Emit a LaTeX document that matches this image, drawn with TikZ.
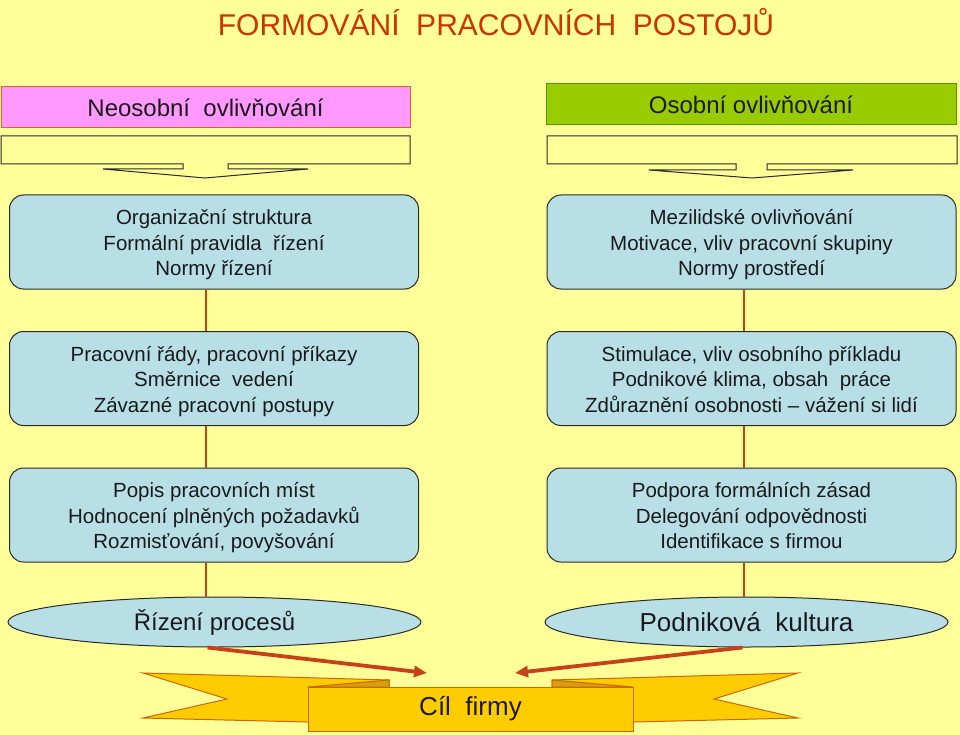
\documentclass[tikz,border=0pt]{standalone}
\usepackage{fontspec}
\setmainfont{Liberation Sans}
\usetikzlibrary{shapes.geometric,arrows.meta}
\definecolor{bgyellow}{HTML}{FFFF99}
\definecolor{titlered}{HTML}{CC3300}
\definecolor{pinkfill}{HTML}{FF99FF}
\definecolor{pinkline}{HTML}{E0602A}
\definecolor{greenfill}{HTML}{99CC00}
\definecolor{greenline}{HTML}{4A9A00}
\definecolor{boxblue}{HTML}{B9DFE6}
\definecolor{darkline}{HTML}{2A2A2A}
\definecolor{connred}{HTML}{C8401A}
\definecolor{gold}{HTML}{FFCC00}
\definecolor{goldline}{HTML}{CC6600}
\definecolor{golddark}{HTML}{D4A010}
\definecolor{txt}{HTML}{1A1A1A}
\newcommand\btext[1]{\raisebox{0pt}[\dimexpr\height+6pt\relax]{\begin{tabular}{@{}c@{}}#1\end{tabular}}}
\tikzset{
  hdr/.style={draw, line width=1pt, minimum width=409pt, minimum height=41pt, inner sep=0pt,
    font=\fontsize{24}{28}\selectfont, text=txt},
  infobox/.style={draw=darkline, line width=1pt, fill=boxblue, rounded corners=14pt,
    minimum width=409pt, minimum height=94pt, inner sep=0pt,
    font=\fontsize{20.5}{25.5}\selectfont, text=txt},
  ovalbox/.style={ellipse, draw=darkline, line width=1pt, fill=boxblue, inner sep=0pt,
    minimum height=50pt, text=txt},
  callout/.style={draw=darkline, line width=1pt},
  conn/.style={draw=connred, line width=2.5pt},
  bigarrow/.style={draw=connred, line width=3.8pt, -{Triangle[length=13pt,width=11pt]}},
  tail/.style={draw=goldline, line width=1pt, fill=gold, line join=miter},
  fold/.style={draw=goldline, line width=1pt, fill=golddark},
}
\begin{document}
\begin{tikzpicture}[x=1pt,y=-1pt]
\fill[bgyellow] (0,0) rectangle (960,735);
\useasboundingbox (0,0) rectangle (960,735);

% title
\node[text=titlered, font=\fontsize{30}{34}\selectfont, inner sep=0pt] (title) at (496,22) {FORMOVÁNÍ\ \ PRACOVNÍCH\ \ POSTOJŮ};

% headers
\node[hdr, fill=pinkfill, draw=pinkline] (hL) at (205.5,107.5) {Neosobní\ \ ovlivňování};
\node[hdr, fill=greenfill, draw=greenline, minimum width=410pt] (hR) at (751,104.5) {Osobní ovlivňování};

% callout shapes
\draw[callout] (1,136) -- (410,136) -- (410,164) -- (228,164) -- (228,169) -- (308,169)
  -- (205,178) -- (103,169) -- (183,169) -- (183,164) -- (1,164) -- cycle;
\draw[callout] (547,136) -- (957,136) -- (957,164) -- (767,164) -- (767,170) -- (853,170)
  -- (752,178) -- (649,170) -- (736,170) -- (736,164) -- (547,164) -- cycle;

% boxes
\node[infobox] (L1) at (214,242) {\btext{Organizační struktura\\Formální pravidla\ \ řízení\\Normy řízení}};
\node[infobox] (L2) at (214,378.5) {\btext{Pracovní řády, pracovní příkazy\\Směrnice\ \ vedení\\Závazné pracovní postupy}};
\node[infobox] (L3) at (214,515) {\btext{Popis pracovních míst\\Hodnocení plněných požadavků\\Rozmisťování, povyšování}};

\node[infobox] (R1) at (751.5,242) {\btext{Mezilidské ovlivňování\\Motivace, vliv pracovní skupiny\\Normy prostředí}};
\node[infobox] (R2) at (751.5,378.5) {\btext{Stimulace, vliv osobního příkladu\\Podnikové klima, obsah\ \ práce\\Zdůraznění osobnosti -- vážení si lidí}};
\node[infobox] (R3) at (751.5,515) {\btext{Podpora formálních zásad\\Delegování odpovědnosti\\Identifikace s firmou}};

% ellipses
\node[ovalbox, minimum width=413pt, font=\fontsize{24}{28}\selectfont] (EL) at (214.5,622) {Řízení procesů};
\node[ovalbox, minimum width=403pt, font=\fontsize{26}{30}\selectfont] (ER) at (746.5,622) {Podniková\ \ kultura};

% vertical connectors
\draw[conn] ([xshift=-8pt]L1.south) -- ([xshift=-8pt]L2.north);
\draw[conn] ([xshift=-8pt]L2.south) -- ([xshift=-8pt]L3.north);
\draw[conn] ([xshift=-8pt]L3.south) -- ([xshift=-8.5pt]EL.north);
\draw[conn] ([xshift=-7.5pt]R1.south) -- ([xshift=-7.5pt]R2.north);
\draw[conn] ([xshift=-7.5pt]R2.south) -- ([xshift=-7.5pt]R3.north);
\draw[conn] ([xshift=-7.5pt]R3.south) -- ([xshift=-2.5pt]ER.north);

% ribbon tails
\draw[tail] (143,673) -- (389,680) -- (389,724) -- (143,718) -- (227,699) -- cycle;
\draw[tail] (798,673) -- (552,680) -- (552,724) -- (798,718) -- (714,699) -- cycle;
\draw[fold] (308,687) -- (389,680) -- (389,687) -- cycle;
\draw[fold] (633,687) -- (552,680) -- (552,687) -- cycle;

% goal
\node[draw=goldline, line width=1pt, fill=gold, minimum width=325pt, minimum height=44pt,
  inner sep=0pt, font=\fontsize{26}{30}\selectfont, text=txt] (goal) at (470.5,709) {Cíl\ \ firmy};

\coordinate (gL) at (427,673);
\coordinate (gR) at (515,673);
\draw[bigarrow] ([xshift=-7pt]EL.south) -- (gL);
\draw[bigarrow] ([xshift=-4pt]ER.south) -- (gR);
\end{tikzpicture}
\end{document}
